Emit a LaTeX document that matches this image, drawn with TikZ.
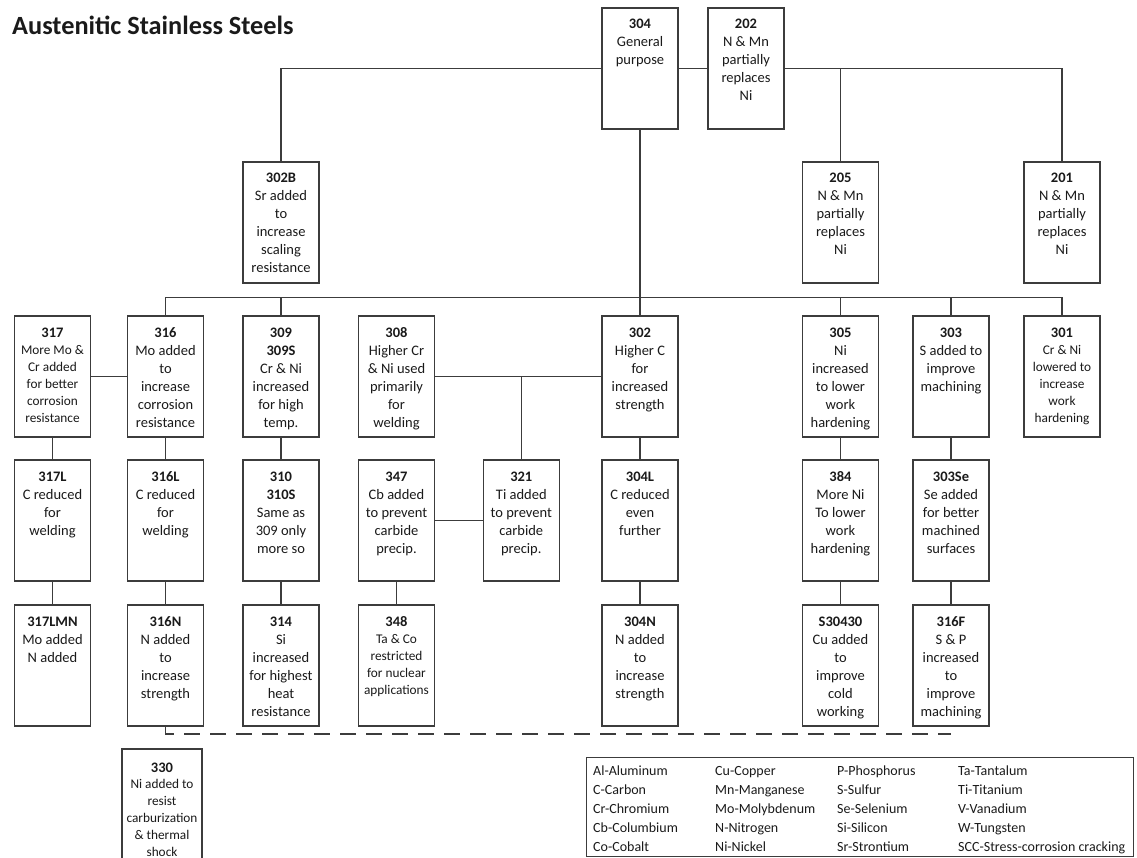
\documentclass[tikz,border=0pt]{standalone}
\usepackage{fontspec}
\setmainfont{Carlito}
\definecolor{ink}{HTML}{1A1A1A}
\definecolor{edge}{HTML}{3C3C3C}
\newcommand{\bxt}[2]{\parbox[c][121pt][t]{76pt}{\centering\rule{0pt}{21pt}{\fontsize{14.5}{18}\selectfont\textbf{#1}}\\#2}}
\tikzset{
  ln/.style={draw=edge, line width=1.15pt},
  box/.style={draw=edge, line width=1.15pt, inner sep=0pt, fill=white, text=ink,
              font=\fontsize{14.5}{18}\selectfont},
  sbox/.style={box, font=\fontsize{13.3}{17}\selectfont},
  legtext/.style={anchor=base west, inner sep=0pt, text=ink, font=\fontsize{14}{17}\selectfont},
}
\begin{document}
\begin{tikzpicture}[x=1pt,y=-1pt]
\useasboundingbox (0,0) rectangle (1137,858);
\node[anchor=base west, inner sep=0pt, text=ink, font=\fontsize{26.3}{30}\selectfont\bfseries] (title) at (12,35) {Austenitic Stainless Steels};

% row 0
\node[box] (n304) at (640,68.5) {\bxt{304}{General\\purpose}};
\node[box] (n202) at (746,68.5) {\bxt{202}{N \& Mn\\partially\\replaces\\Ni}};
% row 1
\node[box] (n302B) at (281,222.5) {\bxt{302B}{Sr added\\to\\increase\\scaling\\resistance}};
\node[box] (n205) at (840.5,222.5) {\bxt{205}{N \& Mn\\partially\\replaces\\Ni}};
\node[box] (n201) at (1062,222.5) {\bxt{201}{N \& Mn\\partially\\replaces\\Ni}};
% row 2
\node[sbox] (n317) at (52.5,376.5) {\bxt{317}{More Mo \&\\Cr added\\for better\\corrosion\\resistance}};
\node[box] (n316) at (165.5,376.5) {\bxt{316}{Mo added\\to\\increase\\corrosion\\resistance}};
\node[box] (n309) at (281,376.5) {\bxt{309\\309S}{Cr \& Ni\\increased\\for high\\temp.}};
\node[box] (n308) at (396.5,376.5) {\bxt{308}{Higher Cr\\\& Ni used\\primarily\\for\\welding}};
\node[box] (n302) at (640,376.5) {\bxt{302}{Higher C\\for\\increased\\strength}};
\node[box] (n305) at (840.5,376.5) {\bxt{305}{Ni\\increased\\to lower\\work\\hardening}};
\node[box] (n303) at (951,376.5) {\bxt{303}{S added to\\improve\\machining}};
\node[sbox] (n301) at (1062,376.5) {\bxt{301}{Cr \& Ni\\lowered to\\increase\\work\\hardening}};
% row 3
\node[box] (n317L) at (52.5,520.5) {\bxt{317L}{C reduced\\for\\welding}};
\node[box] (n316L) at (165.5,520.5) {\bxt{316L}{C reduced\\for\\welding}};
\node[box] (n310) at (281,520.5) {\bxt{310\\310S}{Same as\\309 only\\more so}};
\node[box] (n347) at (396.5,520.5) {\bxt{347}{Cb added\\to prevent\\carbide\\precip.}};
\node[box] (n321) at (521.3,520.5) {\bxt{321}{Ti added\\to prevent\\carbide\\precip.}};
\node[box] (n304L) at (640,520.5) {\bxt{304L}{C reduced\\even\\further}};
\node[box] (n384) at (840.5,520.5) {\bxt{384}{More Ni\\To lower\\work\\hardening}};
\node[box] (n303Se) at (951,520.5) {\bxt{303Se}{Se added\\for better\\machined\\surfaces}};
% row 4
\node[box] (n317LMN) at (52.5,665.5) {\bxt{317LMN}{Mo added\\N added}};
\node[box] (n316N) at (165.5,665.5) {\bxt{316N}{N added\\to\\increase\\strength}};
\node[box] (n314) at (281,665.5) {\bxt{314}{Si\\increased\\for highest\\heat\\resistance}};
\node[sbox] (n348) at (396.5,665.5) {\bxt{348}{Ta \& Co\\restricted\\for nuclear\\applications}};
\node[box] (n304N) at (640,665.5) {\bxt{304N}{N added\\to\\increase\\strength}};
\node[box] (nS30430) at (840.5,665.5) {\bxt{S30430}{Cu added\\to\\improve\\cold\\working}};
\node[box] (n316F) at (951,665.5) {\bxt{316F}{S \& P\\increased\\to\\improve\\machining}};
% 330
\node[box, font=\fontsize{13.3}{16.8}\selectfont] (n330) at (162,809.5)
  {\parbox[c][121pt][t]{80pt}{\centering\rule{0pt}{23pt}{\fontsize{14.5}{18}\selectfont\textbf{330}}\\Ni added to\\resist\\carburization\\\& thermal\\shock}};

% connectors: top
\draw[ln] (n302B.north) |- (n304.west);
\draw[ln] (n304.east) -- (n202.west);
\draw[ln] (n202.east) -| (n201.north);
\draw[ln] (n205.north) -- (n205.north |- n202.east);
\draw[ln] (n304.south) -- (n302.north);
% bus to row 2
\draw[ln] (n316.north) -- ++(0,-18) -| (n301.north);
\draw[ln] (n309.north) -- ++(0,-18);
\draw[ln] (n305.north) -- ++(0,-18);
\draw[ln] (n303.north) -- ++(0,-18);
% side links
\draw[ln] (n317.east) -- (n316.west);
\draw[ln] (n308.east) -- (n302.west);
\draw[ln] (n321.north) -- (n321.north |- n308.east);
\draw[ln] (n347.east) -- (n321.west);
% verticals
\draw[ln] (n317.south) -- (n317L.north);
\draw[ln] (n317L.south) -- (n317LMN.north);
\draw[ln] (n316.south) -- (n316L.north);
\draw[ln] (n316L.south) -- (n316N.north);
\draw[ln] (n309.south) -- (n310.north);
\draw[ln] (n310.south) -- (n314.north);
\draw[ln] (n347.south) -- (n348.north);
\draw[ln] (n302.south) -- (n304L.north);
\draw[ln] (n304L.south) -- (n304N.north);
\draw[ln] (n305.south) -- (n384.north);
\draw[ln] (n384.south) -- (nS30430.north);
\draw[ln] (n303.south) -- (n303Se.north);
\draw[ln] (n303Se.south) -- (n316F.north);
% dashed
\coordinate (dashend) at (951,734);
\draw[ln, dash pattern=on 16pt off 10pt] (n316N.south) |- (dashend);

% legend
\node[draw=edge, line width=0.9pt, inner sep=0pt, minimum width=547pt, minimum height=99pt, anchor=north west] (legend) at (586,757) {};
\foreach \t [count=\i from 0] in {Al-Aluminum, C-Carbon, Cr-Chromium, Cb-Columbium, Co-Cobalt}
  \node[legtext] (la\i) at (593,{775+19*\i}) {\t};
\foreach \t [count=\i from 0] in {Cu-Copper, Mn-Manganese, Mo-Molybdenum, N-Nitrogen, Ni-Nickel}
  \node[legtext] (lb\i) at (715,{775+19*\i}) {\t};
\foreach \t [count=\i from 0] in {P-Phosphorus, S-Sulfur, Se-Selenium, Si-Silicon, Sr-Strontium}
  \node[legtext] (lc\i) at (837,{775+19*\i}) {\t};
\foreach \t [count=\i from 0] in {Ta-Tantalum, Ti-Titanium, V-Vanadium, W-Tungsten, SCC-Stress-corrosion cracking}
  \node[legtext] (ld\i) at (958,{775+19*\i}) {\t};
\end{tikzpicture}
\end{document}
